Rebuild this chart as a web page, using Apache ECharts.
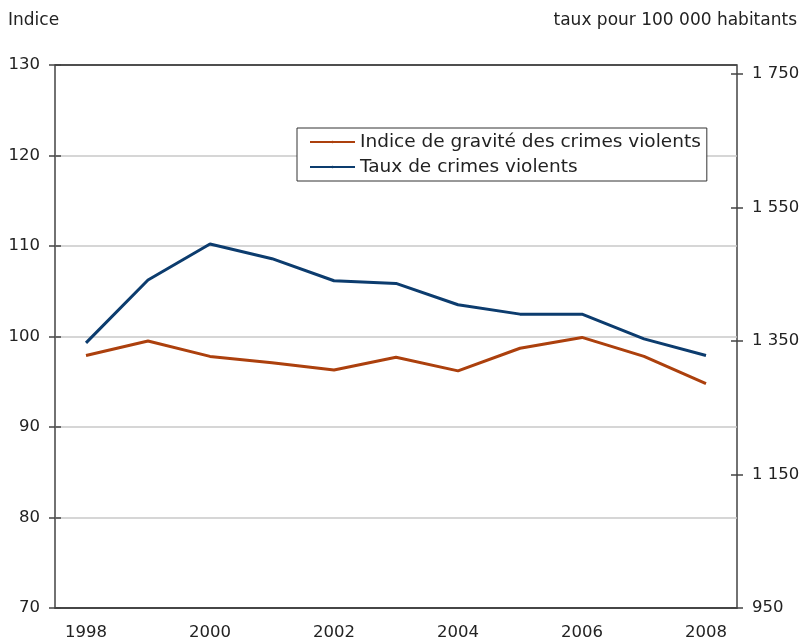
<!DOCTYPE html>
<html>
<head>
<meta charset="utf-8">
<script src="https://cdn.jsdelivr.net/npm/echarts@6/dist/echarts.min.js"></script>
<style>
    body {
        margin: 0;
        background: #ffffff;
    }

    #myChart {
        width: 804px;
        height: 643px;
    }
</style>
</head>
<body>
<div id="myChart"></div>
<script>
    var years = ['1998', '1999', '2000', '2001', '2002', '2003', '2004', '2005', '2006', '2007', '2008'];
    // indice de gravité (échelle de gauche)
    var severityIndex = [97.9, 99.5, 97.8, 97.1, 96.3, 97.7, 96.2, 98.7, 99.9, 97.8, 94.8];
    // taux pour 100 000 habitants (échelle de droite)
    var crimeRate = [1347, 1441, 1495, 1473, 1440, 1436, 1404, 1390, 1390, 1353, 1328];
    var rateTicks = [950, 1150, 1350, 1550, 1750];

    var font = 'DejaVu Sans';
    var axisColor = '#444444';

    function spaceThousands(v) {
        return String(v).replace(/\B(?=(\d{3})+(?!\d))/g, ' ');
    }

    var myChart = echarts.init(document.getElementById('myChart'));
    myChart.setOption({
        animation: false,
        title: [{
            text: 'Indice',
            left: 8,
            top: 12,
            padding: 0,
            textStyle: { fontFamily: font, fontSize: 17, fontWeight: 'normal', color: '#222' }
        }, {
            text: 'taux pour 100 000 habitants',
            right: 7,
            top: 12,
            padding: 0,
            textStyle: { fontFamily: font, fontSize: 17, fontWeight: 'normal', color: '#222' }
        }],
        legend: {
            orient: 'vertical',
            left: 297,
            top: 128,
            padding: [4, 6, 4, 12],
            itemGap: 5,
            itemWidth: 45,
            itemHeight: 3,
            borderColor: '#333',
            borderWidth: 1,
            backgroundColor: '#fff',
            textStyle: { fontFamily: font, fontSize: 18.5, color: '#222', lineHeight: 20 },
            data: ['Indice de gravité des crimes violents', 'Taux de crimes violents']
        },
        // le cadre du graphique ; les axes y sont décalés pour que les ticks croisent le cadre
        grid: {
            left: 55,
            right: 67,
            top: 65,
            bottom: 35,
            show: true,
            borderColor: axisColor,
            borderWidth: 1.5,
            backgroundColor: 'transparent'
        },
        xAxis: {
            type: 'category',
            data: years,
            boundaryGap: true,
            axisLine: { lineStyle: { color: axisColor, width: 1.5 } },
            axisTick: { interval: 0, length: 6, lineStyle: { color: axisColor, width: 1.5 } },
            axisLabel: { interval: 1, margin: 16, fontFamily: font, fontSize: 16.5, color: '#222' }
        },
        yAxis: [{
            type: 'value',
            position: 'left',
            offset: -6,
            min: 70,
            max: 130,
            interval: 10,
            axisLine: { show: false },
            axisTick: { show: true, length: 12, lineStyle: { color: axisColor, width: 1.5 } },
            axisLabel: { margin: 21, fontFamily: font, fontSize: 16.5, color: '#222' },
            splitLine: {
                show: true,
                lineStyle: {
                    color: [axisColor, '#c8c8c8', '#c8c8c8', '#c8c8c8', '#c8c8c8', '#c8c8c8', axisColor],
                    width: 1.5
                }
            }
        }, {
            type: 'value',
            position: 'right',
            offset: -6,
            min: 950,
            max: 1763,
            axisLine: { show: false },
            axisTick: { show: true, length: 12, customValues: rateTicks, lineStyle: { color: axisColor, width: 1.5 } },
            axisLabel: {
                margin: 21,
                customValues: rateTicks,
                fontFamily: font,
                fontSize: 16.5,
                color: '#222',
                formatter: spaceThousands
            },
            splitLine: { show: false }
        }],
        series: [{
            name: 'Indice de gravité des crimes violents',
            type: 'line',
            yAxisIndex: 0,
            data: severityIndex,
            symbol: 'none',
            lineStyle: { color: '#ac400d', width: 3 },
            itemStyle: { color: '#ac400d' }
        }, {
            name: 'Taux de crimes violents',
            type: 'line',
            yAxisIndex: 1,
            data: crimeRate,
            symbol: 'none',
            lineStyle: { color: '#0c3c6e', width: 3 },
            itemStyle: { color: '#0c3c6e' }
        }]
    });
</script>
</body>
</html>
